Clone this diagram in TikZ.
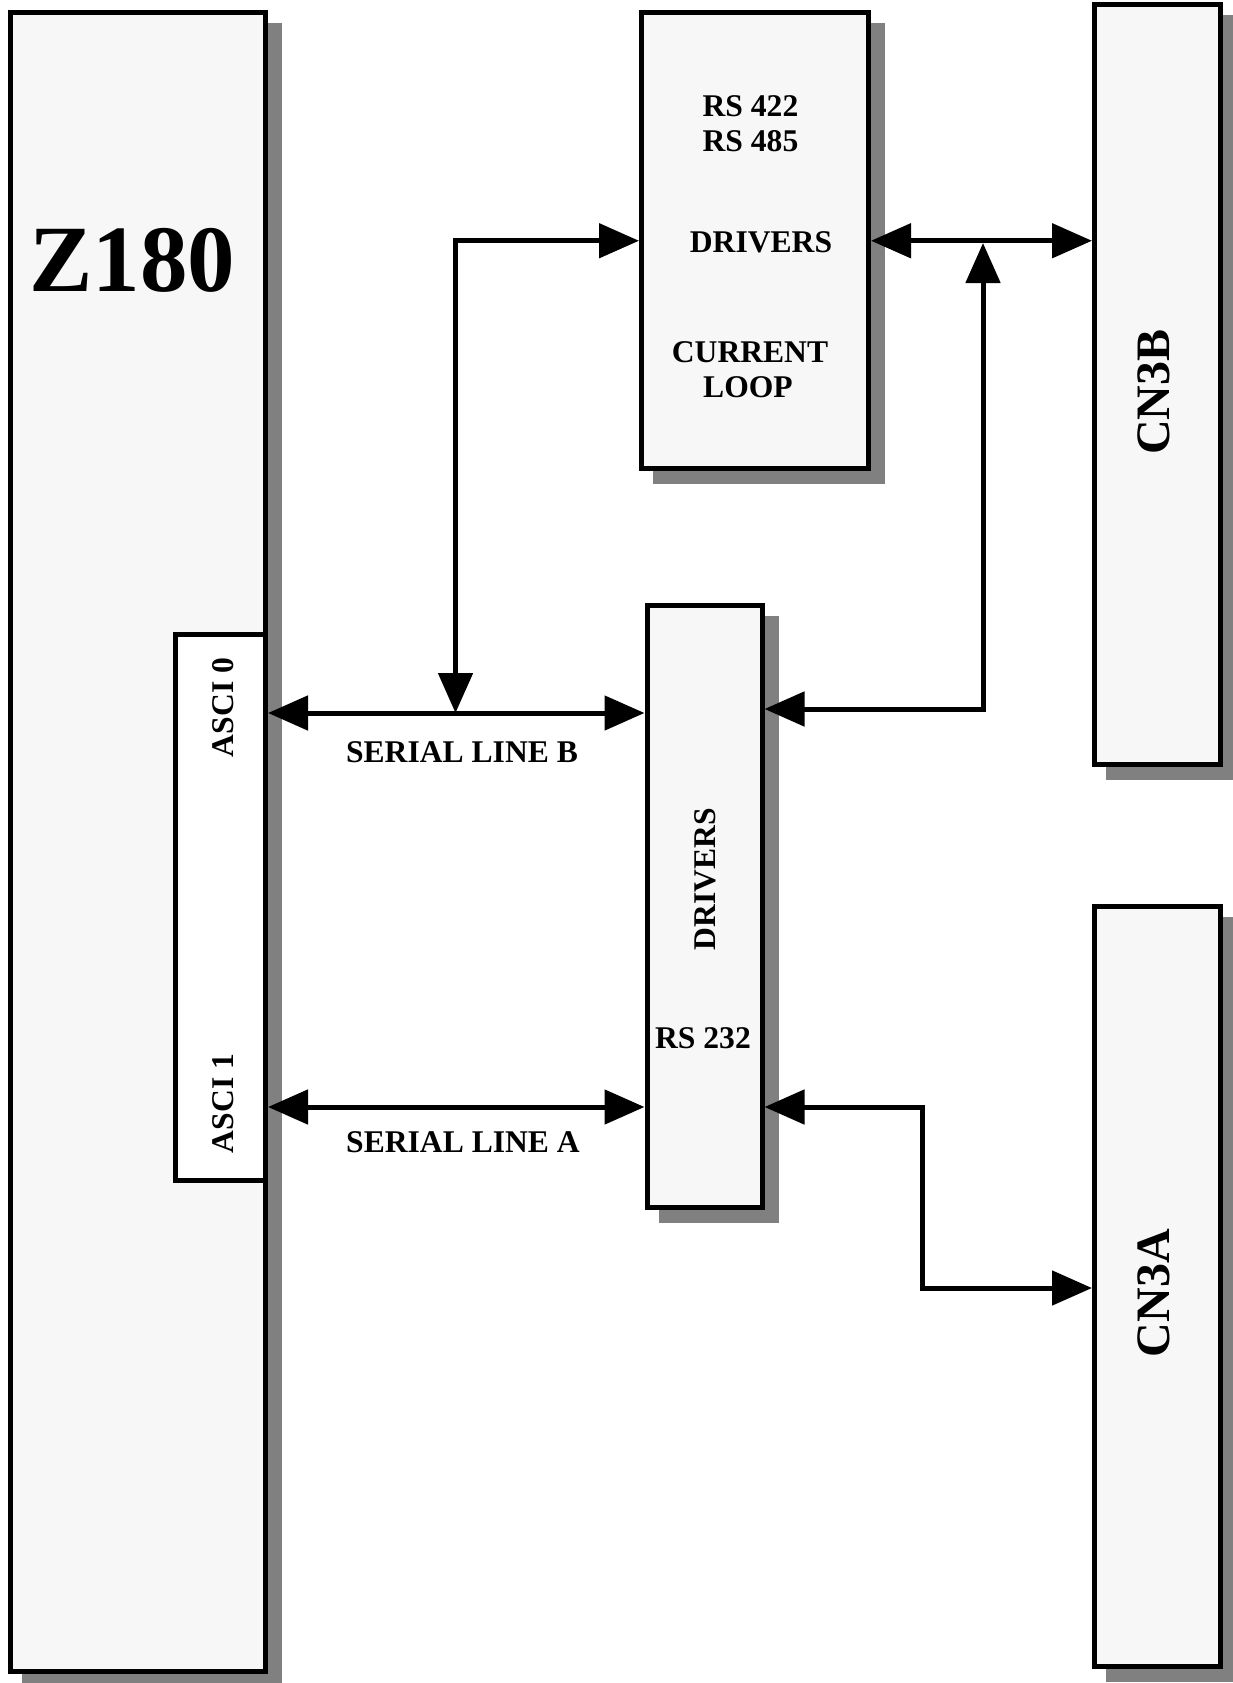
\documentclass[tikz,border=0pt]{standalone}
\usepackage{fontspec}
\setmainfont{Liberation Serif}
\usetikzlibrary{arrows.meta,backgrounds}
\definecolor{boxfill}{HTML}{F7F7F7}
\definecolor{shadowgray}{HTML}{808080}
\tikzset{
  blk/.style={draw=black, line width=5pt, fill=boxfill, inner sep=0pt, rectangle},
  lbl/.style={font=\fontsize{31.6}{34}\selectfont\bfseries, inner sep=0pt},
  biglbl/.style={font=\fontsize{48}{50}\selectfont\bfseries, inner sep=0pt},
  tipT/.tip={Triangle[length=40pt,width=34pt]},
  conn/.style={line width=5pt, tipT-tipT},
  shadowbox/.style={fill=shadowgray},
}
\begin{document}
\begin{tikzpicture}[x=1pt,y=-1pt]
\useasboundingbox (0,0) rectangle (1233,1683);
% boxes
\node[blk, minimum width=255.5pt, minimum height=1658pt] (z) at (137.75,842) {};
\node[blk, minimum width=227pt, minimum height=455.5pt] (rs) at (755,240.75) {};
\node[blk, minimum width=125.5pt, minimum height=759.5pt] (cn3b) at (1157.25,384.75) {};
\node[blk, minimum width=125.5pt, minimum height=760pt] (cn3a) at (1157.25,1286.5) {};
\node[blk, fill=white, minimum width=90pt, minimum height=546.5pt] (asci) at (220.5,907.25) {};
\node[blk, minimum width=115pt, minimum height=602pt] (drv) at (704.5,906.5) {};
% shadows
\begin{scope}[on background layer]
  \foreach \n in {z,rs,cn3b,cn3a,drv}
    \fill[shadowgray] ([shift={(14,13)}]\n.south west) rectangle ([shift={(14,13)}]\n.north east);
\end{scope}
% texts
\node[font=\fontsize{95}{95}\selectfont\bfseries, inner sep=0pt] (tz) at (132.5,260) {Z180};
\node[lbl, anchor=base] (t422) at (750.5,117) {RS 422};
\node[lbl, anchor=base] (t485) at (750.5,151) {RS 485};
\node[lbl, anchor=base] (tdrv1) at (761,252) {DRIVERS};
\node[lbl, anchor=base] (tcur) at (750,362) {CURRENT};
\node[lbl, anchor=base] (tloop) at (748,397) {LOOP};
\node[lbl, anchor=base] (tslb) at (462,762) {SERIAL LINE B};
\node[lbl, anchor=base] (tsla) at (463,1152) {SERIAL LINE A};
\node[lbl, anchor=base, rotate=90] (ta0) at (233,707.5) {ASCI 0};
\node[lbl, anchor=base, rotate=90] (ta1) at (233,1103.5) {ASCI 1};
\node[lbl, anchor=base, rotate=90] (tdrv2) at (715,879) {DRIVERS};
\node[lbl, anchor=base] (t232) at (703,1048) {RS 232};
\node[biglbl, anchor=base, rotate=90] (tcnb) at (1169,392) {CN3B};
\node[biglbl, anchor=base, rotate=90] (tcna) at (1169,1293) {CN3A};
% connector coordinates
\coordinate (jB) at (455.5,713);
\coordinate (jT) at (983,243);
\coordinate (kR) at (983,709);
\coordinate (yA) at (0,1107);
\coordinate (kA) at (922,1288);
% connectors
\draw[conn] (jB -| asci.east) -- (jB -| drv.west);
\draw[conn] (jB) |- (rs.west);
\draw[conn] (rs.east) -- (rs.east -| cn3b.west);
\draw[line width=5pt, tipT-tipT] (kR -| drv.east) -- (kR) -- (jT);
\draw[conn] (yA -| asci.east) -- (yA -| drv.west);
\draw[conn] (yA -| drv.east) -| (kA) -- (kA -| cn3a.west);
\end{tikzpicture}
\end{document}
